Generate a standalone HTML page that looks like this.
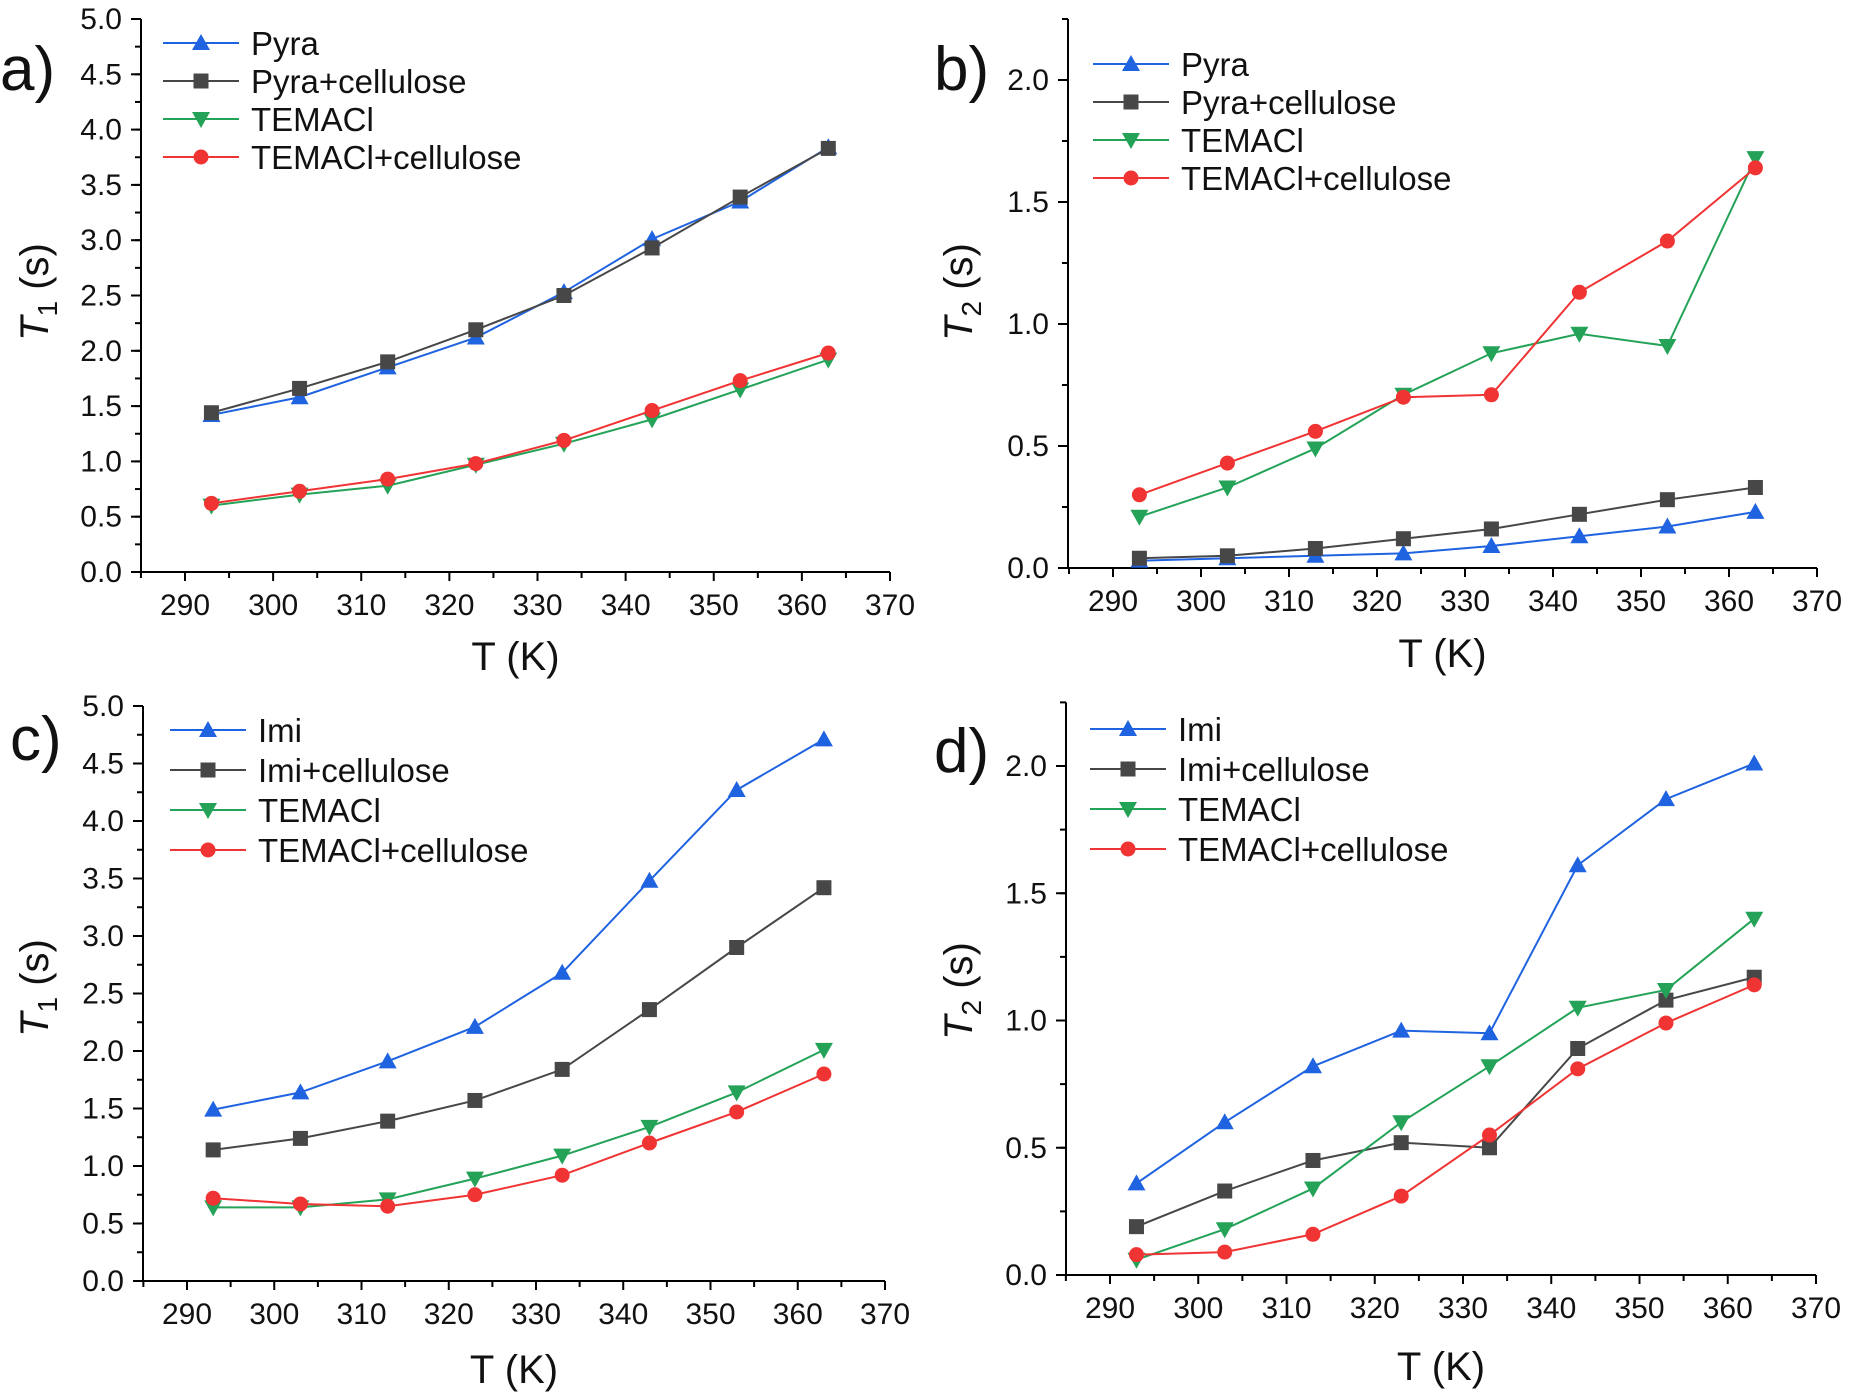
<!DOCTYPE html>
<html><head><meta charset="utf-8"><style>
html,body{margin:0;padding:0;background:#fff;}
svg{display:block;font-family:"Liberation Sans",Arial,sans-serif;}
</style></head><body>
<svg id="chart" width="1867" height="1398" viewBox="0 0 1867 1398"></svg>
<script>
const temps = [293,303,313,323,333,343,353,363];
const xTicks = [290,300,310,320,330,340,350,360,370];
const aNames = ["Pyra","Pyra+cellulose","TEMACl","TEMACl+cellulose"];
const cNames = ["Imi","Imi+cellulose","TEMACl","TEMACl+cellulose"];
const aPyra = [1.42,1.58,1.85,2.12,2.53,3.01,3.35,3.84];
const aPyraCell = [1.44,1.66,1.90,2.19,2.50,2.93,3.39,3.83];
const aTem = [0.60,0.70,0.78,0.97,1.16,1.38,1.65,1.92];
const aTemCell = [0.62,0.73,0.84,0.98,1.19,1.46,1.73,1.98];
const bPyra = [0.03,0.04,0.05,0.06,0.09,0.13,0.17,0.23];
const bPyraCell = [0.04,0.05,0.08,0.12,0.16,0.22,0.28,0.33];
const bTem = [0.21,0.33,0.49,0.71,0.88,0.96,0.91,1.68];
const bTemCell = [0.30,0.43,0.56,0.70,0.71,1.13,1.34,1.64];
const cImi = [1.49,1.64,1.91,2.21,2.68,3.48,4.27,4.71];
const cImiCell = [1.14,1.24,1.39,1.57,1.84,2.36,2.90,3.42];
const cTem = [0.64,0.64,0.71,0.89,1.09,1.34,1.64,2.01];
const cTemCell = [0.72,0.67,0.65,0.75,0.92,1.20,1.47,1.80];
const dImi = [0.36,0.60,0.82,0.96,0.95,1.61,1.87,2.01];
const dImiCell = [0.19,0.33,0.45,0.52,0.50,0.89,1.08,1.17];
const dTem = [0.06,0.18,0.34,0.60,0.82,1.05,1.12,1.40];
const dTemCell = [0.08,0.09,0.16,0.31,0.55,0.81,0.99,1.14];
const t1Ticks = [0,0.5,1,1.5,2,2.5,3,3.5,4,4.5,5];
const t2Ticks = [0,0.5,1,1.5,2];

const NS="http://www.w3.org/2000/svg";
const svg=document.getElementById('chart');
const COLORS=["#1f63e0","#474747","#24a358","#f03333"];
const SHAPES=["up","sq","down","circ"];
function el(t,a,p){const e=document.createElementNS(NS,t);for(const k in a)e.setAttribute(k,a[k]);(p||svg).appendChild(e);return e;}
function marker(g,shape,x,y,c){
  let m;
  if(shape==="up") m=el('polygon',{points:`${x},${y-9} ${x-9},${y+7} ${x+9},${y+7}`,fill:c},g);
  else if(shape==="down") m=el('polygon',{points:`${x},${y+9} ${x-9},${y-7} ${x+9},${y-7}`,fill:c},g);
  else if(shape==="sq") m=el('rect',{x:x-7.5,y:y-7.5,width:15,height:15,fill:c},g);
  else m=el('circle',{cx:x,cy:y,r:7.5,fill:c},g);
  return m;
}
function panel(cfg){
  const g=el('g',{});
  
  
  const {ax,ay0,ay1,x290,x370,yMax,yTop,ticks,minorStep}=cfg;
  const X=v=>x290+(v-290)*(x370-x290)/80;
  const Y=v=>ay0-(v)*(ay0-ay1)/yMax;
  const yt=Y(yTop);
  const ya=el('line',{x1:ax,y1:yt,x2:ax,y2:ay0,stroke:"#000","stroke-width":2},g);
  
  const xa=el('line',{x1:ax-1,y1:ay0,x2:x370,y2:ay0,stroke:"#000","stroke-width":2},g);
  
  for(let v=285;v<=370;v+=5){
    const major=v%10===0;
    el('line',{x1:X(v),y1:ay0,x2:X(v),y2:ay0+(major?9:6),stroke:"#000","stroke-width":2},g);
  }
  xTicks.forEach(v=>{
    const t=el('text',{x:X(v),y:ay0+43,"font-size":30,"text-anchor":"middle",fill:"#111"},g);
    t.textContent=v;
    
  });
  for(let v=0;v<=yTop+1e-9;v+=minorStep){
    el('line',{x1:ax,y1:Y(v),x2:ax-6,y2:Y(v),stroke:"#000","stroke-width":2},g);
  }
  ticks.forEach(v=>{
    el('line',{x1:ax,y1:Y(v),x2:ax-10,y2:Y(v),stroke:"#000","stroke-width":2},g);
    const t=el('text',{x:ax-19,y:Y(v)+10,"font-size":30,"text-anchor":"end",fill:"#111"},g);
    t.textContent=v.toFixed(1);
    
  });
  const xt=el('text',{x:(ax+x370)/2,y:cfg.xTitleY,"font-size":40,"text-anchor":"middle",fill:"#111"},g);
  xt.textContent="T (K)";
  
  const yT=el('text',{transform:`translate(${cfg.yTitleX},${cfg.yTitleY}) rotate(-90)`,"font-size":40,"text-anchor":"middle",fill:"#111"},g);
  yT.innerHTML=`<tspan font-style="italic">T</tspan><tspan font-size="28" dy="9">${cfg.sub}</tspan><tspan dy="-9"> (s)</tspan>`;
  
  const pl=el('text',{x:cfg.labX,y:cfg.labY,"font-size":62,fill:"#111"},g);
  pl.textContent=cfg.id+")";
  
  cfg.series.forEach((s,i)=>{
    const sg=el('g',{},g);
    
    
    el('polyline',{points:s.map((v,j)=>X(temps[j])+","+Y(v)).join(" "),fill:"none",stroke:COLORS[i],"stroke-width":2},sg);
    s.forEach((v,j)=>{
      const m=marker(sg,SHAPES[i],X(temps[j]),Y(v),COLORS[i]);
      
      
    });
  });
  const lg=el('g',{},g);
  
  cfg.names.forEach((n,i)=>{
    const y=cfg.legY+i*cfg.legDy;
    const eg=el('g',{},lg);
    
    el('line',{x1:cfg.legX,y1:y,x2:cfg.legX+76,y2:y,stroke:COLORS[i],"stroke-width":2},eg);
    marker(eg,SHAPES[i],cfg.legX+38,y,COLORS[i]);
    const t=el('text',{x:cfg.legX+88,y:y+12,"font-size":33,fill:"#111"},eg);
    t.textContent=n;
  });
}
panel({id:"a",ax:141,ay0:572,ay1:19,x290:185,x370:890,yMax:5,yTop:5,ticks:t1Ticks,minorStep:0.25,
  xTitleY:670,yTitleX:48,yTitleY:292,sub:"1",labX:0,labY:90,
  series:[aPyra,aPyraCell,aTem,aTemCell],names:aNames,legX:163,legY:43,legDy:38});
panel({id:"b",ax:1068,ay0:568,ay1:80,x290:1113,x370:1817,yMax:2,yTop:2.25,ticks:t2Ticks,minorStep:0.25,
  xTitleY:667,yTitleX:972,yTitleY:292,sub:"2",labX:934,labY:90,
  series:[bPyra,bPyraCell,bTem,bTemCell],names:aNames,legX:1093,legY:64,legDy:38});
panel({id:"c",ax:143,ay0:1281,ay1:706,x290:187,x370:885,yMax:5,yTop:5,ticks:t1Ticks,minorStep:0.25,
  xTitleY:1383,yTitleX:48,yTitleY:988,sub:"1",labX:10,labY:760,
  series:[cImi,cImiCell,cTem,cTemCell],names:cNames,legX:170,legY:730,legDy:40});
panel({id:"d",ax:1066,ay0:1275,ay1:766,x290:1110,x370:1816,yMax:2,yTop:2.25,ticks:t2Ticks,minorStep:0.25,
  xTitleY:1380,yTitleX:972,yTitleY:991,sub:"2",labX:934,labY:772,
  series:[dImi,dImiCell,dTem,dTemCell],names:cNames,legX:1090,legY:729,legDy:40});
</script>
</body></html>
